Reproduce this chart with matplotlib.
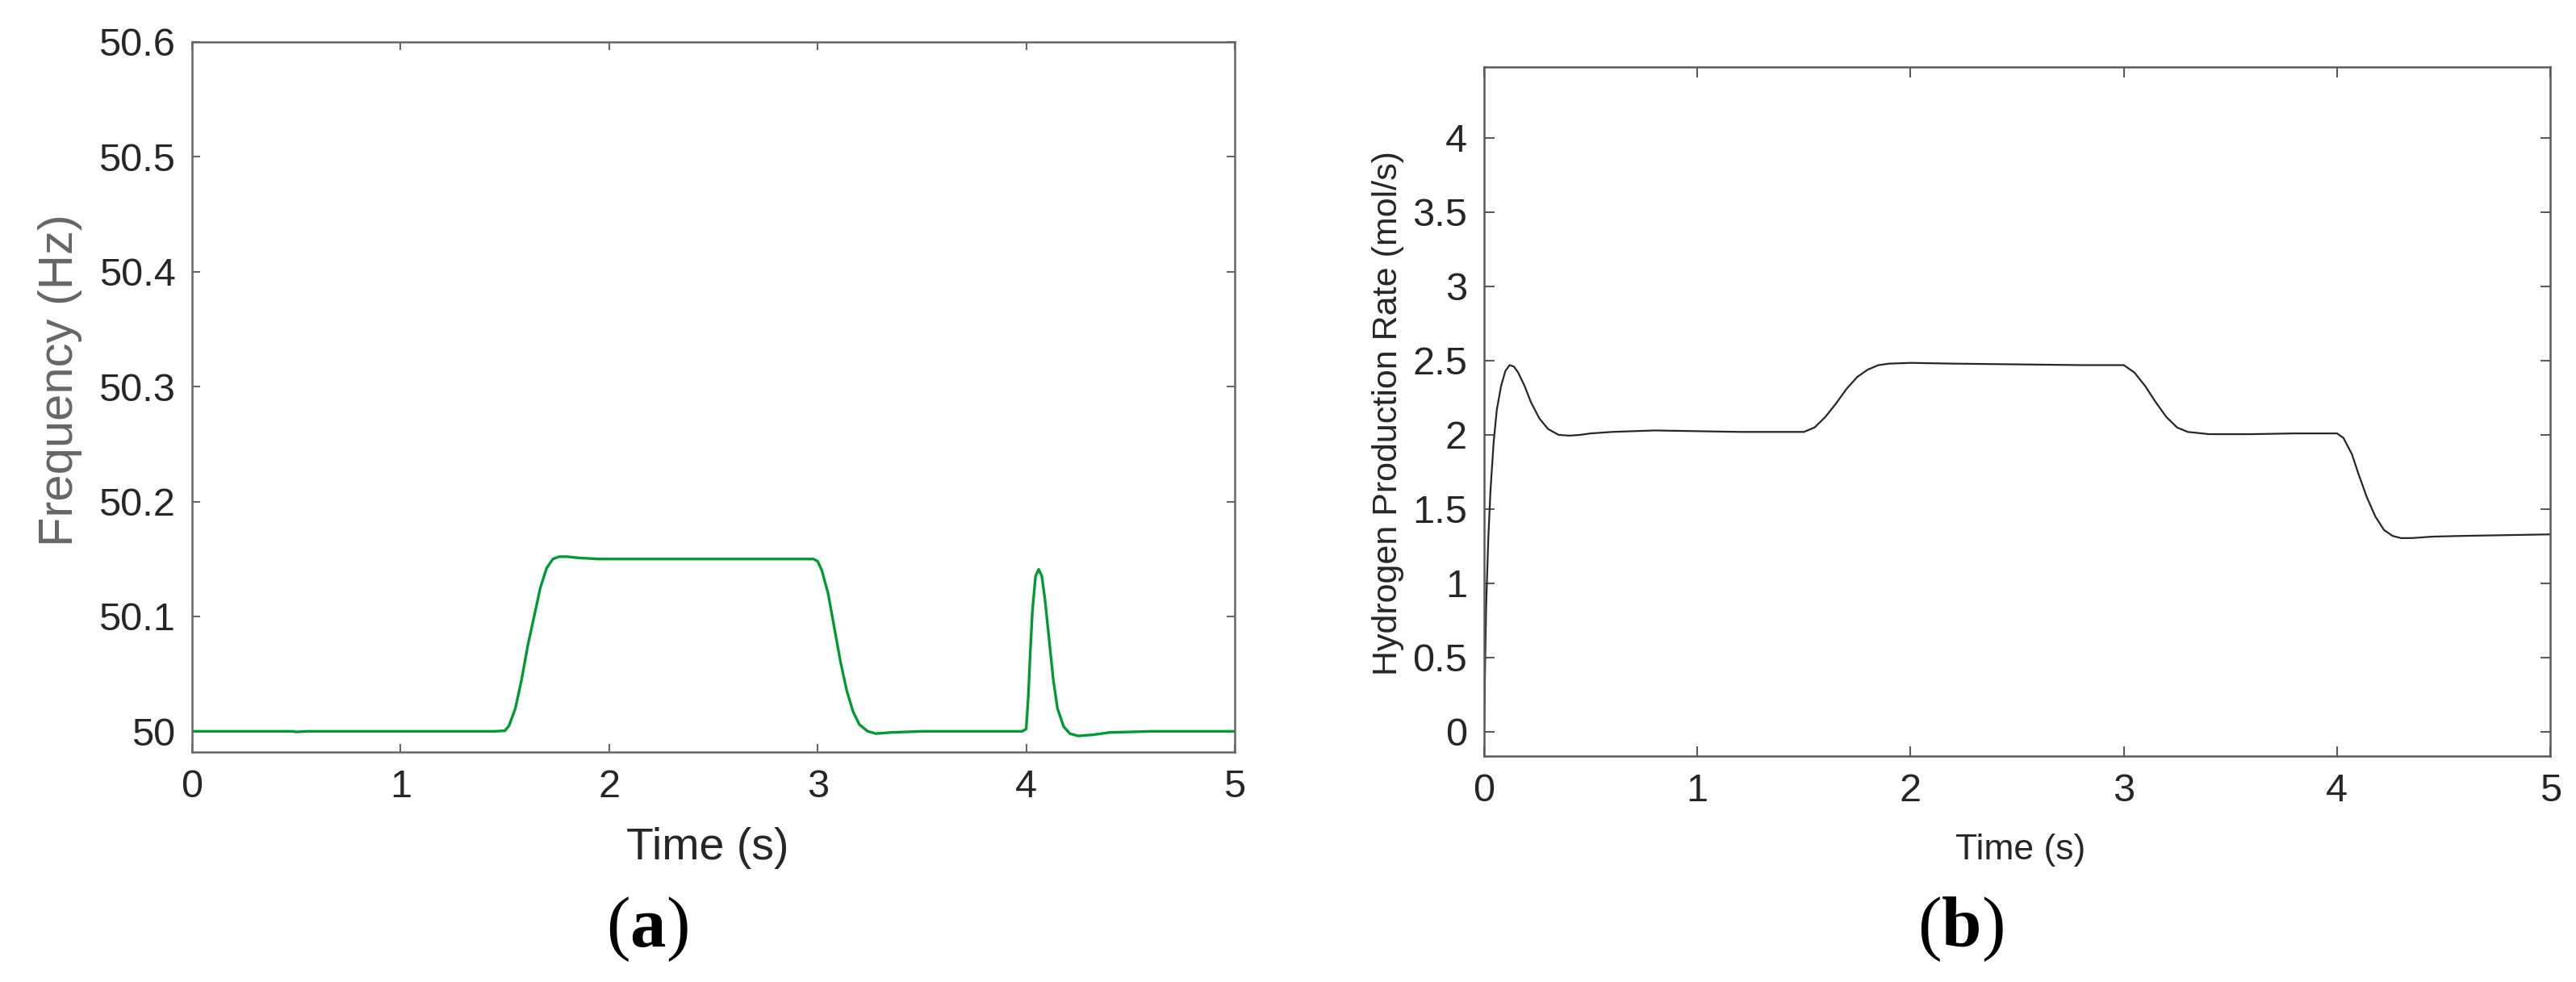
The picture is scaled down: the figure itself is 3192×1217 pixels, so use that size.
import matplotlib
matplotlib.use("Agg")
import matplotlib.pyplot as plt
from matplotlib.ticker import FuncFormatter

plt.rcParams['font.family'] = ['Liberation Sans', 'DejaVu Sans']
plt.rcParams['mathtext.fontset'] = 'custom'
plt.rcParams['mathtext.rm'] = 'Liberation Serif'
plt.rcParams['mathtext.bf'] = 'Liberation Serif:bold'

# (a) grid frequency
freq_t = [0, 0.48, 0.5, 0.55, 1.0, 1.45, 1.50, 1.52, 1.55, 1.58, 1.61, 1.64, 1.67,
          1.70, 1.73, 1.76, 1.80, 1.85, 1.95, 2.5, 2.98, 3.00, 3.02, 3.05, 3.08,
          3.11, 3.14, 3.17, 3.20, 3.24, 3.28, 3.35, 3.5, 3.98, 4.00, 4.01, 4.02,
          4.03, 4.045, 4.06, 4.075, 4.09, 4.11, 4.13, 4.15, 4.18, 4.21, 4.25,
          4.32, 4.4, 4.6, 5.0]
freq_hz = [50.0, 50.0, 49.9995, 50.0, 50.0, 50.0, 50.0005, 50.005, 50.02, 50.045,
           50.075, 50.10, 50.125, 50.142, 50.150, 50.152, 50.152, 50.151, 50.150,
           50.150, 50.150, 50.148, 50.14, 50.12, 50.09, 50.06, 50.035, 50.017,
           50.006, 50.0, 49.998, 49.999, 50.0, 50.0, 50.002, 50.03, 50.07, 50.105,
           50.135, 50.141, 50.135, 50.115, 50.08, 50.045, 50.02, 50.004, 49.998,
           49.996, 49.997, 49.999, 50.0, 50.0]

# (b) hydrogen production rate
h2_t = [0, 0.005, 0.01, 0.02, 0.03, 0.045, 0.06, 0.08, 0.10, 0.12, 0.14, 0.16,
        0.19, 0.22, 0.26, 0.30, 0.35, 0.40, 0.45, 0.5, 0.6, 0.7, 0.8, 1.0, 1.2,
        1.4, 1.5, 1.55, 1.6, 1.65, 1.7, 1.75, 1.8, 1.85, 1.9, 2.0, 2.2, 2.5, 2.8,
        3.0, 3.05, 3.1, 3.15, 3.2, 3.25, 3.3, 3.4, 3.6, 3.8, 4.0, 4.03, 4.07,
        4.1, 4.14, 4.18, 4.22, 4.26, 4.3, 4.35, 4.45, 4.6, 4.8, 5.0]
h2_rate = [0.0, 0.45, 0.85, 1.3, 1.62, 1.95, 2.17, 2.33, 2.43, 2.47, 2.46, 2.42,
           2.33, 2.22, 2.11, 2.04, 2.00, 1.995, 2.00, 2.01, 2.02, 2.025, 2.03,
           2.025, 2.02, 2.02, 2.02, 2.05, 2.12, 2.21, 2.31, 2.39, 2.44, 2.47,
           2.48, 2.485, 2.48, 2.475, 2.47, 2.47, 2.42, 2.33, 2.22, 2.12, 2.05,
           2.02, 2.005, 2.005, 2.01, 2.01, 1.98, 1.87, 1.74, 1.58, 1.45, 1.36,
           1.32, 1.305, 1.305, 1.315, 1.32, 1.325, 1.33]

x_ticks = [0, 1, 2, 3, 4, 5]
freq_ticks = [50.0, 50.1, 50.2, 50.3, 50.4, 50.5, 50.6]
rate_ticks = [0, 0.5, 1, 1.5, 2, 2.5, 3, 3.5, 4]

fig = plt.figure(figsize=(31.92, 12.17), dpi=100)
fmt = FuncFormatter(lambda v, p: '%g' % round(v, 3))


def style(ax, ticklen, spine_col):
    for s in ax.spines.values():
        s.set_color(spine_col)
        s.set_linewidth(1.8)
    ax.tick_params(direction='in', top=True, right=True, length=ticklen,
                   width=1.5, color=spine_col, labelsize=35,
                   labelcolor='#262626', pad=15)
    ax.xaxis.set_major_formatter(fmt)
    ax.yaxis.set_major_formatter(fmt)


ax1 = fig.add_axes([0.0746, 0.2342, 0.4047, 0.7231])
ax1.plot(freq_t, freq_hz, color='#009933', lw=2.4)
ax1.set_xlim(0, 5)
ax1.set_ylim(49.982, 50.598)
ax1.set_xticks(x_ticks)
ax1.set_yticks(freq_ticks)
style(ax1, 7.5, '#666666')

ax2 = fig.add_axes([0.5761, 0.2301, 0.4139, 0.7017])
ax2.plot(h2_t, h2_rate, color='#262626', lw=1.6)
ax2.set_xlim(0, 5)
ax2.set_ylim(-0.163, 4.478)
ax2.set_xticks(x_ticks)
ax2.set_yticks(rate_ticks)
style(ax2, 9, '#5a5a5a')

fig.text(0.2748, 0.1249, 'Time (s)', fontsize=40, color='#262626',
         ha='center', va='baseline')
fig.text(0.0232, 0.613, 'Frequency (Hz)', fontsize=43, color='#666666',
         rotation=90, ha='center', va='center')

fig.text(0.7845, 0.1249, 'Time (s)', fontsize=32, color='#262626',
         ha='center', va='baseline')
fig.text(0.539, 0.579, 'Hydrogen Production Rate (mol/s)', fontsize=31,
         color='#262626', rotation=90, ha='center', va='center')

fig.text(0.2513, 0.0362, r'$\mathrm{(}\mathbf{a}\mathrm{)}$', fontsize=64,
         color='black', ha='center', va='baseline')
fig.text(0.761, 0.0362, r'$\mathrm{(}\mathbf{b}\mathrm{)}$', fontsize=64,
         color='black', ha='center', va='baseline')

fig.savefig('out.png', dpi=100, facecolor='white')
